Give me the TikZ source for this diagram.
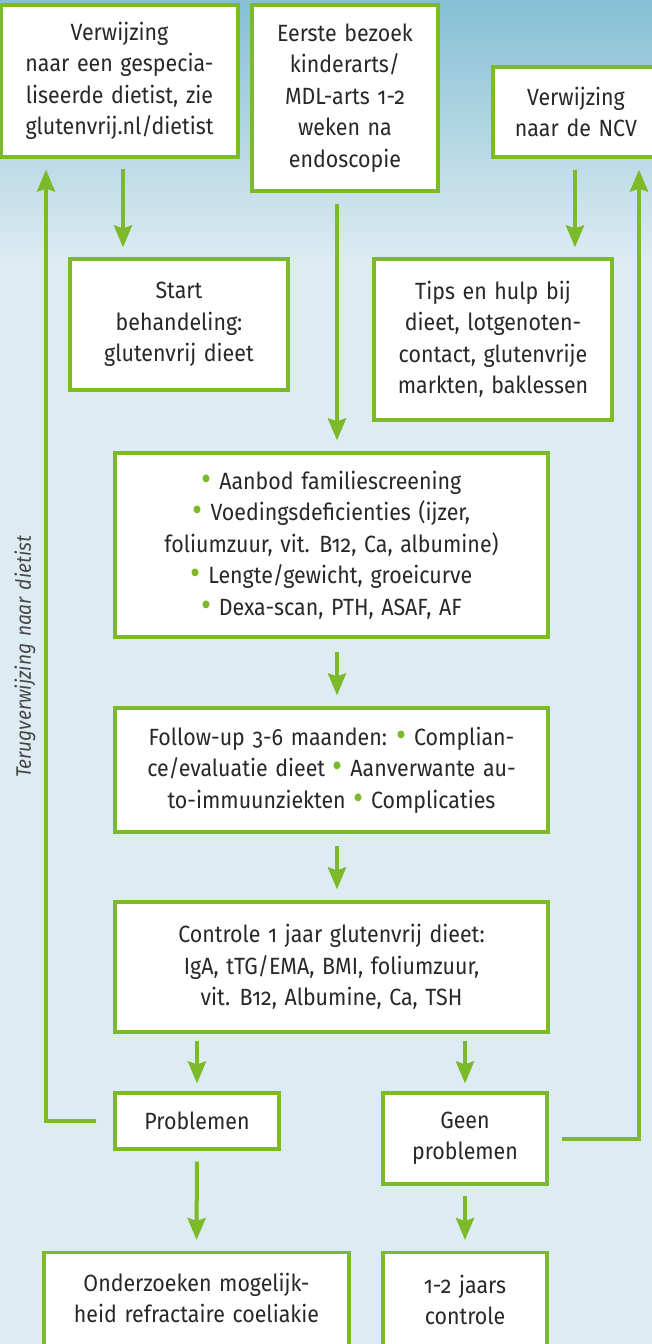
\documentclass[tikz,border=0pt]{standalone}
\usepackage{fontspec}
\setmainfont{Fira Sans}[Numbers=OldStyle, FakeStretch=0.91, WordSpace=1.35]
\usetikzlibrary{arrows.meta,calc}
\definecolor{lgreen}{RGB}{124,186,41}
\definecolor{bgtop}{RGB}{134,192,212}
\definecolor{bglight}{RGB}{221,235,242}
\definecolor{txtgray}{RGB}{40,40,40}
\newcommand{\gbul}{{\color{lgreen}\fontsize{34}{0}\selectfont\raisebox{-1.2pt}{\textbullet}}\ }
\tikzset{
  box/.style={draw=lgreen, line width=3.2pt, fill=white, inner sep=0pt,
    align=center, text=txtgray, font=\fontsize{23.5}{31.5}\selectfont},
  txt/.style={inner sep=0pt, align=center, text=txtgray, font=\fontsize{23.5}{31.5}\selectfont},
  arr/.style={draw=lgreen, line width=4pt, -{Stealth[length=22pt,width=18pt,inset=3pt]}},
  lbl/.style={inner sep=0pt, text=txtgray!85, font=\fontsize{21}{24}\selectfont\itshape}
}
\begin{document}
\begin{tikzpicture}[x=1pt,y=-1pt]
\useasboundingbox (0,0) rectangle (652,1344);
\clip (0,0) rectangle (652,1344);
\shade[top color=bgtop, bottom color=bglight] (0,0) rectangle (652,260);
\fill[bglight] (0,259) rectangle (652,1344);

% boxes
\node[box, minimum width=237pt, minimum height=152pt] (A) at (119.5,81)
  {Verwijzing\\naar een gespecia-\\liseerde dietist, zie\\glutenvrij.nl/dietist};
\node[box, minimum width=186pt, minimum height=186pt] (B) at (345,98)
  {Eerste bezoek\\kinderarts/\\MDL-arts 1-2\\weken na\\endoscopie};
\node[box, minimum width=166pt, minimum height=90pt] (C) at (576,112)
  {Verwijzing\\naar de NCV};
\node[box, minimum width=218pt, minimum height=131pt] (D) at (179,324.5)
  {Start\\behandeling:\\glutenvrij dieet};
\node[box, minimum width=238pt, minimum height=161pt] (E) at (493,339.5)
  {Tips en hulp bij\\dieet, lotgenoten-\\contact, glutenvrije\\markten, baklessen};
\node[box, minimum width=433pt, minimum height=184pt] (F) at (331.5,545)
  {\gbul Aanbod familiescreening\\\gbul Voedingsdeficienties (ijzer,\\foliumzuur, vit. B12, Ca, albumine)\\\gbul Lengte/gewicht, groeicurve\\\gbul Dexa-scan, PTH, ASAF, AF};
\node[box, minimum width=433pt, minimum height=124pt] (G) at (331.5,770)
  {Follow-up 3-6 maanden: \gbul Complian-\\ce/evaluatie dieet \gbul Aanverwante au-\\to-immuunziekten \gbul Complicaties};
\node[box, minimum width=433pt, minimum height=130pt] (H) at (331.5,967)
  {Controle 1 jaar glutenvrij dieet:\\IgA, tTG/EMA, BMI, foliumzuur,\\vit. B12, Albumine, Ca, TSH};
\node[box, minimum width=164pt, minimum height=56pt] (I) at (197,1121)
  {Problemen};
\node[box, minimum width=164pt, minimum height=91pt] (J) at (465,1138.5)
  {Geen\\problemen};
\node[box, minimum width=305pt, minimum height=150pt, anchor=north] (K) at (196.5,1251) {};
\node[txt] (Kt) at ($(K.north)+(0,47)$) {Onderzoeken mogelijk-\\heid refractaire coeliakie};
\node[box, minimum width=164pt, minimum height=150pt, anchor=north] (L) at (465,1251) {};
\node[txt] (Lt) at ($(L.north)+(0,49)$) {1-2 jaars\\controle};

\node[lbl, rotate=90] (lab) at (25,657) {Terugverwijzing naar dietist};

% connectors
\coordinate (lx) at (46,0);
\coordinate (rx) at (639,0);
\draw[arr, shorten <=10pt, shorten >=10pt] (A.south) ++(3.5,0) coordinate (a1) -- (a1 |- D.north);
\draw[arr, shorten <=11pt, shorten >=10pt] (C.south) ++(-1,0) coordinate (c1) -- (c1 |- E.north);
\draw[arr, shorten <=11pt, shorten >=11pt] (B.south) ++(-8,0) coordinate (b1) -- (b1 |- F.north);
\draw[arr, shorten <=13pt, shorten >=11pt] (F.south) ++(5.5,0) coordinate (f1) -- (f1 |- G.north);
\draw[arr, shorten <=12pt, shorten >=11pt] (G.south) ++(5.5,0) coordinate (g1) -- (g1 |- H.north);
\draw[arr, shorten <=7pt, shorten >=8pt] (I.north |- H.south) -- (I.north);
\draw[arr, shorten <=7pt, shorten >=8pt] (J.north |- H.south) -- (J.north);
\draw[arr, shorten <=11pt, shorten >=11pt] (I.south) -- (K.north);
\draw[arr, shorten <=10pt, shorten >=11pt] (J.south) -- (L.north);
\draw[arr, shorten >=11pt] (I.west) ++(-17,0) -| (lx |- A.south);
\draw[arr, shorten >=11pt] (J.east) ++(13,0) -| (rx |- C.south);
\end{tikzpicture}
\end{document}
